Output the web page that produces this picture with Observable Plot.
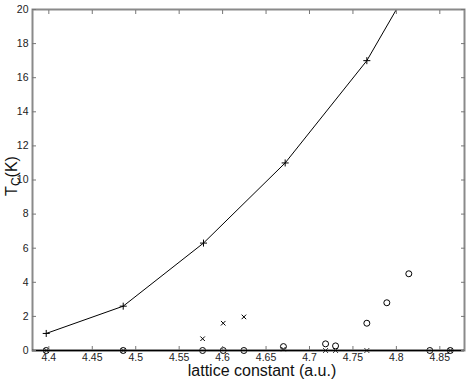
<!DOCTYPE html>
<html>
<head>
<meta charset="utf-8">
<script src="https://cdn.jsdelivr.net/npm/d3@7"></script>
<script src="https://cdn.jsdelivr.net/npm/@observablehq/plot@0.6"></script>
<style>
  html, body { margin: 0; padding: 0; background: #fff; }
  #chart { width: 469px; height: 380px; position: relative; }
  svg { font-family: "Liberation Sans", Arial, Helvetica, sans-serif; }
</style>
</head>
<body>
<div id="chart"></div>
<script>
// "+" series (connected by a line)
const plusX = [4.397, 4.4856, 4.578, 4.672, 4.766];
const plusY = [1.0, 2.6, 6.3, 11.0, 17.0];
// line continues to the top of the frame
const lineX = [4.397, 4.4856, 4.578, 4.672, 4.766, 4.8];
const lineY = [1.0, 2.6, 6.3, 11.0, 17.0, 20.0];
// "x" series
const crossX = [4.397, 4.4856, 4.577, 4.6007, 4.6245, 4.670, 4.7185, 4.730, 4.766, 4.862];
const crossY = [0.0, 0.0, 0.69, 1.6, 1.97, 0.08, 0.0, 0.0, 0.0, 0.0];
// "o" series
const circX = [4.397, 4.4856, 4.577, 4.6007, 4.6245, 4.670, 4.7185, 4.730, 4.766, 4.789, 4.8143, 4.8385, 4.862];
const circY = [0.0, 0.0, 0.0, 0.0, 0.0, 0.23, 0.39, 0.27, 1.6, 2.8, 4.5, 0.0, 0.0];
// ticks
const xTicks = [4.4, 4.45, 4.5, 4.55, 4.6, 4.65, 4.7, 4.75, 4.8, 4.85];
const yTicks = [0, 2, 4, 6, 8, 10, 12, 14, 16, 18, 20];
const xLabel = "lattice constant (a.u.)";

const toRows = (xs, ys) => xs.map((x, i) => ({x, y: ys[i]}));
const plusData = toRows(plusX, plusY);
const lineData = toRows(lineX, lineY);
const crossData = toRows(crossX, crossY);
const circData = toRows(circX, circY);

const fmt = d => String(+d.toFixed(2));
const blank = () => "";

const chart = Plot.plot({
  width: 469,
  height: 380,
  marginLeft: 32,
  marginRight: 5,
  marginTop: 9,
  marginBottom: 30,
  style: {fontFamily: "Liberation Sans, Arial, sans-serif", fontSize: "10.5px", color: "#222", background: "#fff"},
  x: {domain: [4.3812, 4.8784]},
  y: {domain: [0, 20]},
  marks: [
    Plot.line(lineData, {x: "x", y: "y", stroke: "#000", strokeWidth: 1, clip: true}),
    Plot.dot(plusData, {x: "x", y: "y", symbol: "plus", r: 2.4, stroke: "#000", strokeWidth: 1, fill: "none"}),
    Plot.dot(crossData, {x: "x", y: "y", symbol: "times", r: 2.2, stroke: "#000", strokeWidth: 1, fill: "none"}),
    Plot.dot(circData, {x: "x", y: "y", symbol: "circle", r: 3, stroke: "#000", strokeWidth: 1, fill: "none"}),
    Plot.frame({stroke: "#8a8a8a", strokeWidth: 2}),
    Plot.ruleY([0], {stroke: "#000", strokeWidth: 1.5}),
    // tick labels
    Plot.axisX({ticks: xTicks, tickFormat: fmt, tickSize: 0, tickPadding: 3, label: null, fill: "#222", fontSize: 10.5}),
    Plot.axisY({ticks: yTicks, tickFormat: fmt, tickSize: 0, tickPadding: 4, label: null, fill: "#222", fontSize: 10.5}),
    // inward tick marks on all four sides
    Plot.axisX({ticks: xTicks, tickFormat: blank, tickSize: -4, label: null, stroke: "#777"}),
    Plot.axisX({anchor: "top", ticks: xTicks, tickFormat: blank, tickSize: -4, label: null, stroke: "#777"}),
    Plot.axisY({ticks: yTicks, tickFormat: blank, tickSize: -4, label: null, stroke: "#777"}),
    Plot.axisY({anchor: "right", ticks: yTicks, tickFormat: blank, tickSize: -4, label: null, stroke: "#777"})
  ]
});

document.getElementById("chart").appendChild(chart);

// axis titles
const svg = d3.select(chart);
svg.append("text")
  .attr("x", 262).attr("y", 376)
  .attr("text-anchor", "middle")
  .attr("font-size", 16)
  .attr("fill", "#111")
  .text(xLabel);

const yl = svg.append("text")
  .attr("transform", "translate(17,176) rotate(-90)")
  .attr("text-anchor", "middle")
  .attr("font-size", 16)
  .attr("fill", "#111");
yl.append("tspan").text("T");
yl.append("tspan").attr("font-size", 12).attr("dy", 3).text("C");
yl.append("tspan").attr("dy", -3).text("(K)");
</script>
</body>
</html>
